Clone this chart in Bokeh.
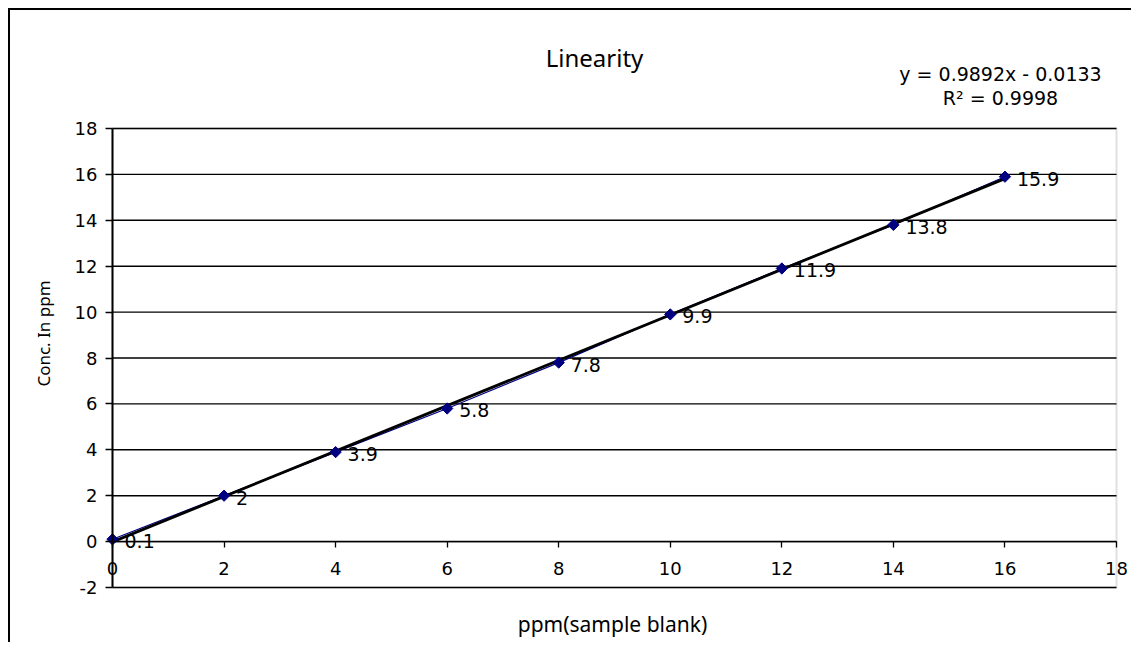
import math
from bokeh.plotting import figure
from bokeh.models import LinearAxis, Label, FixedTicker, ColumnDataSource, Grid, BoxAnnotation
from bokeh.embed import file_html
from bokeh.resources import INLINE
from bokeh.core.properties import value

# ---- data ----
x_ppm = [0, 2, 4, 6, 8, 10, 12, 14, 16]
conc = [0.1, 2, 3.9, 5.8, 7.8, 9.9, 11.9, 13.8, 15.9]
point_labels = [f"{v:g}" for v in conc]
slope = 0.9892
intercept = -0.0133
r_squared = 0.9998
x_ticks = [0, 2, 4, 6, 8, 10, 12, 14, 16, 18]
y_ticks = [-2, 0, 2, 4, 6, 8, 10, 12, 14, 16, 18]

NUM_FONT = "DejaVu Sans"
TXT_FONT = "Noto Sans"

# ---- layout (pixels on the canvas) ----
CANVAS_W, CANVAS_H = 1121, 632
AREA_L, AREA_R = 102, 1106       # canvas x of x = 0 and x = 18
AREA_T, AREA_B = 118, 577        # canvas y of y = 18 and y = -2
x0v, x1v = x_ticks[0], x_ticks[-1]
y0v, y1v = y_ticks[0], y_ticks[-1]
sx = (AREA_R - AREA_L) / (x1v - x0v)
sy = (AREA_B - AREA_T) / (y1v - y0v)

def px_x(px):
    return x0v + (px - AREA_L) / sx

def px_y(py):
    return y1v - (py - AREA_T) / sy

p = figure(
    output_backend="svg", toolbar_location=None,
    x_range=(px_x(0), px_x(CANVAS_W)), y_range=(px_y(CANVAS_H), px_y(0)),
    frame_width=CANVAS_W, frame_height=CANVAS_H,
    min_border=0, min_border_left=0, min_border_right=0,
    min_border_top=0, min_border_bottom=0,
    x_axis_location=None, y_axis_location=None,
    background_fill_color="white", border_fill_color="white",
)
p.styles = {"border-left": "2px solid black", "border-top": "2px solid black",
            "margin-left": "8px", "margin-top": "8px"}
p.outline_line_color = None
p.center = [r for r in p.center if not isinstance(r, Grid)]

# plot-area border (grey)
p.add_layout(BoxAnnotation(left=x0v, right=x1v, bottom=y0v, top=y1v,
                           fill_alpha=0, line_color="#999999", line_width=2,
                           level="underlay"))

# y axis crossing at x = 0
yaxis = LinearAxis(ticker=FixedTicker(ticks=y_ticks), fixed_location=0, bounds=(y0v, y1v))
yaxis.axis_line_color = "black"
yaxis.axis_line_width = 2
yaxis.major_tick_line_color = "black"
yaxis.major_tick_line_width = 1.3
yaxis.major_tick_out = 7
yaxis.major_tick_in = 0
yaxis.minor_tick_line_color = None
yaxis.major_label_text_font = NUM_FONT
yaxis.major_label_text_font_size = "18px"
yaxis.major_label_text_color = "black"
yaxis.major_label_standoff = 8
yaxis.major_label_overrides = {t: str(t) for t in y_ticks}
p.add_layout(yaxis, "left")

# x axis crossing at y = 0
xaxis = LinearAxis(ticker=FixedTicker(ticks=x_ticks), fixed_location=0, bounds=(x0v, x1v))
xaxis.axis_line_color = "black"
xaxis.axis_line_width = 1.3
xaxis.major_tick_line_color = "black"
xaxis.major_tick_line_width = 1.3
xaxis.major_tick_out = 6
xaxis.major_tick_in = 0
xaxis.minor_tick_line_color = None
xaxis.major_label_text_font = NUM_FONT
xaxis.major_label_text_font_size = "18px"
xaxis.major_label_text_color = "black"
xaxis.major_label_standoff = 14
p.add_layout(xaxis, "below")

# horizontal gridlines at the y ticks, across the plot area
p.segment(x0=[x0v] * len(y_ticks), x1=[x1v] * len(y_ticks), y0=y_ticks, y1=y_ticks,
          line_color="black", line_width=1.4)

# data series
src = ColumnDataSource(dict(x=x_ppm, y=conc, lab=point_labels))
p.line("x", "y", source=src, line_color="#000080", line_width=1.2)

# trendline from equation
tx = [x_ppm[0], x_ppm[-1]]
ty = [slope * v + intercept for v in tx]
p.line(tx, ty, line_color="black", line_width=2.8)

p.scatter("x", "y", source=src, marker="square", angle=math.pi / 4, size=8,
          fill_color="#000080", line_color="#000080")

p.text("x", "y", text="lab", source=src, x_offset=12, y_offset=2,
       text_font=value(NUM_FONT), text_font_size="19px", text_color="black",
       text_baseline="middle", text_align="left")

def add_label(px, py, text, font, size, angle=0.0):
    p.add_layout(Label(x=px_x(px), y=px_y(py), text=text,
                       text_font=font, text_font_size=size, text_align="center",
                       text_baseline="middle", text_color="black", angle=angle))

add_label(584, 47, "Linearity", TXT_FONT, "24px")
add_label(990, 63, f"y = {slope}x - {abs(intercept)}", NUM_FONT, "19px")
add_label(990, 87, f"R\u00b2 = {r_squared}", NUM_FONT, "19px")
add_label(602, 613, "ppm(sample blank)", TXT_FONT, "21px")
add_label(33, 323, "Conc. In ppm", TXT_FONT, "17px", angle=math.pi / 2)

open("out.html", "w").write(file_html(p, INLINE))
